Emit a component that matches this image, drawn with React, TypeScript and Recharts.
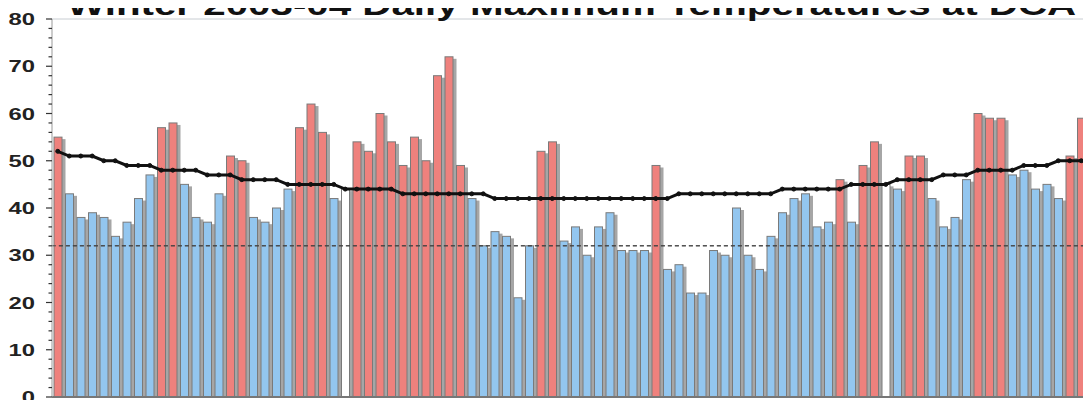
import React from "react";
import {
  ComposedChart,
  Bar,
  Line,
  XAxis,
  YAxis,
  ReferenceLine,
} from "recharts";

// Dec 1 2003 - Feb 29 2004
const days = [
  "12/1", "12/2", "12/3", "12/4", "12/5", "12/6", "12/7", "12/8", "12/9", "12/10",
  "12/11", "12/12", "12/13", "12/14", "12/15", "12/16", "12/17", "12/18", "12/19", "12/20",
  "12/21", "12/22", "12/23", "12/24", "12/25", "12/26", "12/27", "12/28", "12/29", "12/30", "12/31",
  "1/1", "1/2", "1/3", "1/4", "1/5", "1/6", "1/7", "1/8", "1/9", "1/10",
  "1/11", "1/12", "1/13", "1/14", "1/15", "1/16", "1/17", "1/18", "1/19", "1/20",
  "1/21", "1/22", "1/23", "1/24", "1/25", "1/26", "1/27", "1/28", "1/29", "1/30", "1/31",
  "2/1", "2/2", "2/3", "2/4", "2/5", "2/6", "2/7", "2/8", "2/9", "2/10",
  "2/11", "2/12", "2/13", "2/14", "2/15", "2/16", "2/17", "2/18", "2/19", "2/20",
  "2/21", "2/22", "2/23", "2/24", "2/25", "2/26", "2/27", "2/28", "2/29",
];

// observed daily highs (F)
const highs = [
  55, 43, 38, 39, 38, 34, 37, 42, 47, 57, 58, 45, 38, 37, 43, 51, 50, 38, 37, 40,
  44, 57, 62, 56, 42, 44, 54, 52, 60, 54, 49,
  55, 50, 68, 72, 49, 42, 32, 35, 34, 21, 32, 52, 54, 33, 36, 30, 36, 39, 31, 31,
  31, 49, 27, 28, 22, 22, 31, 30, 40, 30, 27,
  34, 39, 42, 43, 36, 37, 46, 37, 49, 54, 45, 44, 51, 51, 42, 36, 38, 46, 60, 59,
  59, 47, 48, 44, 45, 42, 51, 59, 66,
];

// normal daily highs (F)
const normals = [
  52, 51, 51, 51, 50, 50, 49, 49, 49, 48, 48, 48, 48, 47, 47, 47, 46, 46, 46, 46,
  45, 45, 45, 45, 45, 44, 44, 44, 44, 44, 43,
  43, 43, 43, 43, 43, 43, 43, 42, 42, 42, 42, 42, 42, 42, 42, 42, 42, 42, 42, 42,
  42, 42, 42, 43, 43, 43, 43, 43, 43, 43, 43,
  43, 44, 44, 44, 44, 44, 44, 45, 45, 45, 45, 46, 46, 46, 46, 47, 47, 47, 48, 48,
  48, 48, 49, 49, 49, 50, 50, 50, 50,
];

const freezing = 32;

const yLabels = [0, 10, 20, 30, 40, 50, 60, 70, 80];
const yTicks = [
  0, 2, 4, 6, 8, 10, 12, 14, 16, 18, 20, 22, 24, 26, 28, 30, 32, 34, 36, 38, 40,
  42, 44, 46, 48, 50, 52, 54, 56, 58, 60, 62, 64, 66, 68, 70, 72, 74, 76, 78, 80,
];

const data = days.map((day, i) => ({
  day,
  temp: highs[i],
  normal: normals[i],
  freezing,
}));

const RED = "#ef817d";
const BLUE = "#93c6ef";

const ShadowBar = (props: any) => {
  const { x, y, width, height, payload } = props;
  if (height == null || height <= 0) return null;
  let fill = "#ffffff";
  if (payload.temp > payload.normal) fill = RED;
  else if (payload.temp < payload.normal) fill = BLUE;
  return (
    <g>
      <rect x={x + width} y={y + 2} width={3.5} height={height - 2} fill="#a6a6a6" />
      <rect x={x} y={y} width={width} height={height} fill={fill} stroke="#7a7a7a" strokeWidth={1} />
    </g>
  );
};

const YTick = (props: any) => {
  const { x, y, payload } = props;
  const major = yLabels.includes(payload.value);
  return (
    <g>
      <line x1={x - (major ? 6 : 3.5)} y1={y} x2={x} y2={y} stroke="#333" strokeWidth={1.2} />
      {major && (
        <text
          transform={`translate(${x - 17},${y}) scale(1.4,1)`}
          textAnchor="end"
          dy="0.36em"
          fontFamily="'Liberation Sans', Arial, sans-serif"
          fontWeight="bold"
          fontSize={17}
          fill="#222"
        >
          {payload.value}
        </text>
      )}
    </g>
  );
};

export default function App() {
  return (
    <div
      style={{
        position: "relative",
        width: 1091,
        height: 400,
        overflow: "hidden",
        margin: "-8px 0 0 -8px",
        background: "#fff",
      }}
    >
      <ComposedChart
        width={1100}
        height={420}
        data={data}
        margin={{ top: 19, right: 1.5, bottom: 0, left: 0 }}
      >
        <XAxis
          dataKey="day"
          tick={false}
          tickLine={false}
          height={23}
          axisLine={{ stroke: "#777", strokeWidth: 2 }}
        />
        <YAxis
          type="number"
          domain={[0, 80]}
          ticks={yTicks}
          interval={0}
          width={52}
          tickSize={0}
          tickMargin={0}
          tickLine={false}
          axisLine={{ stroke: "#999", strokeWidth: 1 }}
          tick={(p: any) => <YTick {...p} />}
        />
        <ReferenceLine y={80} stroke="#c8cdd2" strokeWidth={1} />
        <ReferenceLine y={freezing} stroke="#444" strokeWidth={1} strokeDasharray="4 3" />
        <Bar dataKey="temp" barSize={8} shape={(p: any) => <ShadowBar {...p} />} isAnimationActive={false} />
        {/* freezing line repeated over the bars */}
        <Line
          dataKey="freezing"
          type="linear"
          stroke="#444"
          strokeWidth={1}
          strokeDasharray="4 3"
          strokeDashoffset={6}
          dot={false}
          activeDot={false}
          isAnimationActive={false}
        />
        <Line
          dataKey="normal"
          type="linear"
          stroke="#111"
          strokeWidth={3}
          dot={{ r: 2, fill: "#111", stroke: "#111", strokeWidth: 1 }}
          isAnimationActive={false}
        />
      </ComposedChart>
      <svg
        width={1091}
        height={30}
        style={{ position: "absolute", left: 0, top: 0, pointerEvents: "none" }}
      >
        <text
          transform="translate(67,14.5) scale(1.39,1)"
          fontFamily="'Liberation Sans', Arial, sans-serif"
          fontWeight="bold"
          fontSize={29}
          fill="#111"
        >
          Winter 2003-04 Daily Maximum Temperatures at DCA
        </text>
      </svg>
    </div>
  );
}
